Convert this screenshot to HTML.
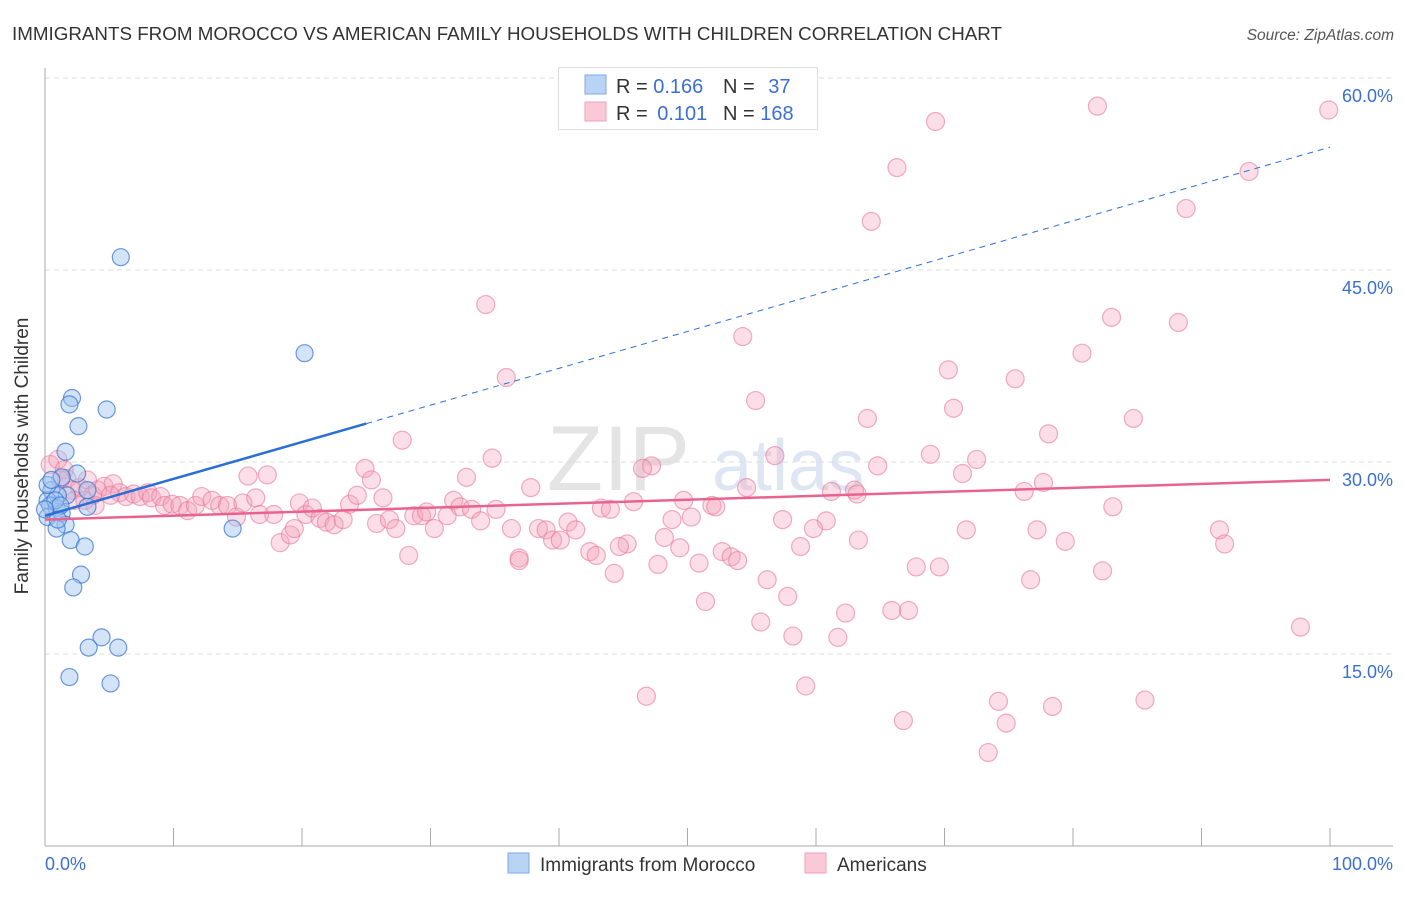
<!DOCTYPE html>
<html><head><meta charset="utf-8"><style>
body{margin:0;background:#fff;font-family:"Liberation Sans",Arial,sans-serif;}
svg text{font-family:"Liberation Sans",Arial,sans-serif;}
</style></head><body>
<svg id="chart" width="1406" height="892" xmlns="http://www.w3.org/2000/svg">
<text x="12" y="40" font-size="18" fill="#333" textLength="990" lengthAdjust="spacingAndGlyphs">IMMIGRANTS FROM MOROCCO VS AMERICAN FAMILY HOUSEHOLDS WITH CHILDREN CORRELATION CHART</text>
<text x="1394" y="40" font-size="15.5" fill="#555" font-style="italic" text-anchor="end">Source: ZipAtlas.com</text>
<text x="690" y="490" font-size="92" fill="#e4e4e4" text-anchor="end" font-family="Liberation Serif">ZIP</text>
<text x="712" y="490" font-size="72" fill="#dfe6f3">atlas</text>
<g id="grid"></g>
<g id="axes"></g>
<g id="pts"></g>
<g id="lines"></g>
<text x="28" y="456" font-size="19" fill="#333" text-anchor="middle" transform="rotate(-90 28 456)">Family Households with Children</text>
<g>
<rect x="558.5" y="67.5" width="259" height="62" fill="#fff" stroke="#ddd"/>
<rect x="585" y="75" width="21" height="19" fill="#b9d3f5" stroke="#7fa8e6"/>
<rect x="585" y="102" width="21" height="19" fill="#fbc8d7" stroke="#f0a0b8"/>
<text x="616" y="93" font-size="20" fill="#333">R = <tspan fill="#3b6fd4">0.166</tspan></text>
<text x="723" y="93" font-size="20" fill="#333">N = <tspan fill="#3b6fd4" dx="8">37</tspan></text>
<text x="616" y="120" font-size="20" fill="#333">R = <tspan fill="#3b6fd4" dx="4">0.101</tspan></text>
<text x="723" y="120" font-size="20" fill="#333">N = <tspan fill="#3b6fd4">168</tspan></text>
</g>
<text x="45" y="870" font-size="18" fill="#3b6fd4">0.0%</text>
<text x="1393" y="870" font-size="18" fill="#3b6fd4" text-anchor="end">100.0%</text>
<g>
<rect x="508" y="853" width="21" height="20" fill="#b9d3f5" stroke="#7fa8e6"/>
<text x="540" y="871" font-size="19" fill="#333">Immigrants from Morocco</text>
<rect x="805" y="853" width="21" height="20" fill="#fbc8d7" stroke="#f0a0b8"/>
<text x="837" y="871" font-size="19" fill="#333">Americans</text>
</g>
</svg>
<script>
const yTicks=[15,30,45,60];
const xTicks=[0,10,20,30,40,50,60,70,80,90,100];
const blueX=[5.9,20.2,2.1,1.9,4.8,2.6,1.6,2.5,1.3,0.5,1.7,1.0,0.2,0.4,0.9,3.3,0.2,1.3,1.6,0.9,2.0,3.1,2.8,2.2,4.4,3.4,5.7,1.9,5.1,14.6,0.2,0.5,0.8,1.2,0,3.3,1.0];
const blueY=[46.0,38.5,35.0,34.5,34.1,32.8,30.8,29.1,28.8,27.8,27.4,27.4,27.0,26.6,26.4,26.5,25.7,26.0,25.1,24.8,23.9,23.4,21.2,20.2,16.3,15.5,15.5,13.2,12.7,24.8,28.2,28.6,27.0,26.6,26.3,27.8,25.5];
const pinkX=[99.9,81.9,69.3,66.3,93.7,88.8,64.3,34.3,83.0,88.2,54.3,80.7,35.9,70.3,75.5,55.3,70.7,64.0,84.7,27.8,78.1,34.8,56.8,68.9,72.5,47.2,46.5,64.8,17.3,15.8,24.9,71.4,32.8,25.4,37.8,54.6,63.0,77.7,76.2,63.2,61.2,83.1,45.8,49.7,51.9,52.2,43.3,44.0,50.3,48.8,57.4,60.8,59.8,71.7,77.2,91.4,91.8,79.4,63.3,58.8,48.2,49.4,45.3,44.7,42.4,42.9,52.7,53.4,53.9,47.7,50.9,36.9,28.3,36.9,44.3,67.8,69.6,82.3,76.7,56.2,57.8,51.4,62.3,65.9,67.2,55.7,97.7,58.2,61.7,59.2,46.8,74.2,85.6,78.4,66.8,74.8,73.4,0.4,1.0,1.5,1.7,2.1,2.7,3.3,3.7,3.1,4.1,4.6,5.3,5.8,6.3,6.9,7.4,8.0,8.3,9.0,9.3,9.9,10.5,11.1,11.7,12.2,13.0,13.6,14.2,14.9,15.4,16.4,16.7,17.8,18.3,19.1,19.4,19.8,20.3,20.8,21.4,21.9,22.5,23.2,23.7,24.3,25.8,26.3,26.8,27.3,28.7,29.3,29.7,30.3,31.3,31.8,32.3,33.2,33.9,35.1,36.3,38.4,39.0,39.5,40.1,40.7,41.3,1.2,2.3,3.9,5.1];
const pinkY=[57.5,57.8,56.6,53.0,52.7,49.8,48.8,42.3,41.3,40.9,39.8,38.5,36.6,37.2,36.5,34.8,34.2,33.4,33.4,31.7,32.2,30.3,30.5,30.6,30.2,29.7,29.5,29.7,29.0,28.9,29.5,29.1,28.8,28.6,28.0,28.0,27.8,28.4,27.7,27.5,27.7,26.5,26.9,27.0,26.6,26.5,26.4,26.3,25.7,25.5,25.5,25.4,24.8,24.7,24.7,24.7,23.6,23.8,23.9,23.4,24.1,23.3,23.6,23.4,23.0,22.7,23.0,22.6,22.3,22.0,22.1,22.5,22.7,22.3,21.3,21.8,21.8,21.5,20.8,20.8,19.5,19.1,18.2,18.4,18.4,17.5,17.1,16.4,16.3,12.5,11.7,11.3,11.4,10.9,9.8,9.6,7.3,29.8,30.2,29.4,28.7,27.8,28.0,28.6,27.4,27.0,27.8,28.1,28.3,27.6,27.3,27.5,27.3,27.6,27.2,27.3,26.6,26.7,26.6,26.2,26.6,27.3,27.0,26.6,26.6,25.7,26.8,27.2,25.9,25.9,23.7,24.3,24.8,26.8,25.9,26.4,25.6,25.3,25.1,25.5,26.7,27.4,25.2,27.2,25.5,24.8,25.8,25.8,26.1,24.8,25.8,27.0,26.5,26.3,25.4,26.3,24.8,24.8,24.7,23.9,23.9,25.3,24.7,28.6,27.0,26.6,27.4];
const blueTrend=[25.8,0.288];
const pinkTrend=[25.5,0.031];
const NS="http://www.w3.org/2000/svg";
const sx=v=>45+v*12.85, sy=v=>846-v*12.8;
function mk(p,tag,attrs){const e=document.createElementNS(NS,tag);for(const k in attrs)e.setAttribute(k,attrs[k]);p.appendChild(e);return e;}
const grid=document.getElementById('grid'),axes=document.getElementById('axes'),pts=document.getElementById('pts'),lines=document.getElementById('lines');
yTicks.forEach(t=>{
 const l=mk(grid,'line',{x1:45,x2:1393,y1:sy(t),y2:sy(t),stroke:'#ddd','stroke-dasharray':'5,4'});
 
 
 const tx=mk(grid,'text',{x:1393,y:sy(t)+24,'font-size':18,fill:'#3b6fd4','text-anchor':'end'});
 tx.textContent=t.toFixed(1)+'%';
 
 
});
const ya=mk(axes,'line',{x1:45,x2:45,y1:68,y2:846,stroke:'#aaa'});


const xa=mk(axes,'line',{x1:45,x2:1393,y1:846,y2:846,stroke:'#aaa'});


xTicks.forEach(t=>{
 const l=mk(axes,'line',{x1:sx(t),x2:sx(t),y1:828,y2:846,stroke:'#aaa'});
 
 
});
pinkX.forEach((x,i)=>{
 const c=mk(pts,'circle',{cx:sx(x),cy:sy(pinkY[i]),r:9,fill:'rgba(244,160,186,0.35)',stroke:'rgba(232,120,155,0.6)','stroke-width':1.2});
 
 
});
blueX.forEach((x,i)=>{
 const c=mk(pts,'circle',{cx:sx(x),cy:sy(blueY[i]),r:8.5,fill:'rgba(160,196,240,0.45)',stroke:'rgba(60,120,210,0.75)','stroke-width':1.2});
 
 
});
const bf=x=>blueTrend[0]+blueTrend[1]*x, pf=x=>pinkTrend[0]+pinkTrend[1]*x;
const b1=mk(lines,'line',{x1:sx(0),y1:sy(bf(0)),x2:sx(25),y2:sy(bf(25)),stroke:'#2b6fd6','stroke-width':2.5});


const b2=mk(lines,'line',{x1:sx(25),y1:sy(bf(25)),x2:sx(100),y2:sy(bf(100)),stroke:'#2b6fd6','stroke-width':1,'stroke-dasharray':'6,5'});


const p1=mk(lines,'line',{x1:sx(0),y1:sy(pf(0)),x2:sx(100),y2:sy(pf(100)),stroke:'#e8638f','stroke-width':2.5});


</script>
</body></html>
